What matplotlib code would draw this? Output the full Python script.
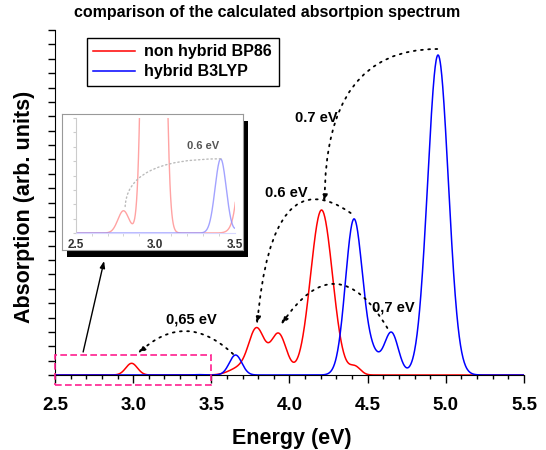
import numpy as np
import matplotlib
matplotlib.use('Agg')
import matplotlib.pyplot as plt
from matplotlib.patches import Rectangle

plt.rcParams['font.family'] = 'Liberation Sans'
plt.rcParams['font.weight'] = 'bold'

# transitions: position (eV), peak height (arb.), broadening (eV)
bp86_pos = [2.80, 2.99, 3.68, 3.79, 3.93, 4.205, 4.42]
bp86_height = [0.12, 11.7, 7.0, 45.0, 41.0, 165.0, 8.0]
bp86_width = [0.035, 0.037, 0.065, 0.05, 0.05, 0.07, 0.035]

b3lyp_pos = [3.41, 3.655, 4.412, 4.53, 4.652, 4.95]
b3lyp_height = [0.4, 20.0, 155.0, 18.0, 42.0, 320.0]
b3lyp_width = [0.035, 0.04, 0.054, 0.05, 0.045, 0.066]

xtick_labels = ['2.5', '3.0', '3.5', '4.0', '4.5', '5.0', '5.5']
inset_labels = ['2.5', '3.0', '3.5']

energy = np.linspace(2.5, 5.5, 1501)


def spectrum(pos, height, width):
    y = np.zeros_like(energy)
    for p, h, w in zip(pos, height, width):
        y += h * np.exp(-(energy - p) ** 2 / (2 * w ** 2))
    return y


red = spectrum(bp86_pos, bp86_height, bp86_width)
blue = spectrum(b3lyp_pos, b3lyp_height, b3lyp_width)

fig = plt.figure(figsize=(5.46, 4.5), dpi=100)
ax = fig.add_axes([55 / 546, 75 / 450, 469 / 546, 345 / 450])

ax.plot(energy, red, color='#ff0000', lw=1.1, label='non hybrid BP86')
ax.plot(energy, blue, color='#0000ff', lw=1.1, label='hybrid B3LYP')

ax.set_xlim(2.5, 5.5)
ax.set_ylim(0, 345)
ax.set_xticks(np.arange(2.5, 5.51, 0.5))
ax.set_xticklabels(xtick_labels)
ax.set_xticks(np.arange(2.5, 5.51, 0.1), minor=True)
ax.set_yticks(np.arange(0, 346, 14.375))
ax.tick_params(axis='x', which='major', length=6, width=1, labelsize=13.5, pad=10)
ax.tick_params(axis='x', which='minor', length=3, width=1)
ax.tick_params(axis='y', length=5, width=1, labelleft=False)
for side in ['top', 'right']:
    ax.spines[side].set_visible(False)

ax.set_xlabel('Energy (eV)', fontsize=15.5, fontweight='bold')
ax.xaxis.set_label_coords(0.505, -0.155)
ax.set_ylabel('Absorption (arb. units)', fontsize=15.5, fontweight='bold')
ax.yaxis.set_label_coords(-0.043, 0.488)

fig.text(267 / 546, 1 - 12 / 450, 'comparison of the calculated absortpion spectrum',
         ha='center', va='center', fontsize=11.5, fontweight='bold')

leg = ax.legend(loc='upper left', bbox_to_anchor=(0.068, 0.977), prop={'weight': 'bold', 'size': 11.5},
                frameon=True, fancybox=False, edgecolor='k', framealpha=1, borderaxespad=0,
                handlelength=2.6, borderpad=0.4, labelspacing=0.3, handletextpad=0.6)
leg.get_frame().set_linewidth(1.0)

# dashed box marking the zoomed region
ax.add_patch(Rectangle((2.5, -10), 1.0, 30, fill=False, ec='#ff1f8f', ls=(0, (4, 2)),
                       lw=1.2, clip_on=False, zorder=5))
ax.annotate('', xy=(2.814, 114), xytext=(2.68, 23),
            arrowprops=dict(arrowstyle='-|>,head_length=0.4,head_width=0.15', color='k', lw=1,
                            shrinkA=0, shrinkB=0))

# dotted shift arrows
dots = (0, (1, 3))
head = '-|>,head_length=0.45,head_width=0.16'


def shift(start, end, style):
    ax.annotate('', xy=end, xytext=start,
                arrowprops=dict(arrowstyle=head, connectionstyle=style, color='k', fc='k',
                                lw=1.3, ls=dots, shrinkA=0, shrinkB=0))


shift((4.945, 326), (4.225, 172), 'angle3,angleA=0,angleB=90')
shift((4.391, 162), (3.793, 50), 'angle3,angleA=145,angleB=85')
shift((4.626, 47), (3.945, 50), 'arc3,rad=0.79')
shift((3.639, 21), (3.028, 21), 'arc3,rad=0.47')

ax.text(4.17, 257, '0.7 eV', ha='center', va='center', fontsize=10.5, fontweight='bold')
ax.text(3.98, 182, '0.6 eV', ha='center', va='center', fontsize=10.5, fontweight='bold')
ax.text(4.665, 68, '0,7 eV', ha='center', va='center', fontsize=10.5, fontweight='bold')
ax.text(3.37, 55, '0,65 eV', ha='center', va='center', fontsize=10.5, fontweight='bold')

# inset: shadow, frame and a faded zoom of 2.5-3.5 eV
fig.add_artist(Rectangle((67 / 546, 193 / 450), 181 / 546, 136 / 450, transform=fig.transFigure,
                         fc='k', ec='none', zorder=2))
frame = fig.add_axes([62 / 546, 200 / 450, 181 / 546, 136 / 450], zorder=3)
frame.set_xticks([])
frame.set_yticks([])
for sp in frame.spines.values():
    sp.set_color('#999999')
    sp.set_linewidth(0.8)

inset = fig.add_axes([75.7 / 546, 217 / 450, 159.3 / 546, 115 / 450], zorder=4)
inset.patch.set_alpha(0)
inset.plot(energy, red, color='#ff8c8c', lw=1.0, alpha=0.8)
inset.plot(energy, blue, color='#8c8cff', lw=1.0, alpha=0.8)
inset.set_xlim(2.5, 3.5)
inset.set_ylim(0, 0.62)
inset.set_xticks([2.5, 3.0, 3.5])
inset.set_xticklabels(inset_labels)
inset.set_xticks(np.arange(2.5, 3.51, 0.1), minor=True)
inset.set_yticks(np.linspace(0, 0.62, 9))
inset.tick_params(axis='x', which='major', length=0, labelsize=8.5, labelcolor='#333333', pad=4)
inset.tick_params(axis='x', which='minor', length=2, color='#cccccc')
inset.tick_params(axis='y', length=2, color='#cccccc', labelleft=False)
for side in ['top', 'right']:
    inset.spines[side].set_visible(False)
inset.spines['left'].set_color('#cccccc')
inset.spines['bottom'].set_color('#d8d8ff')
inset.annotate('', xy=(2.81, 0.13), xytext=(3.41, 0.40),
               arrowprops=dict(arrowstyle='-', connectionstyle='angle3,angleA=0,angleB=90',
                               color='#bbbbbb', lw=1.0, ls=(0, (1, 2)), shrinkA=0, shrinkB=0))
inset.text(3.3, 0.47, '0.6 eV', ha='center', va='center', fontsize=8, fontweight='bold',
           color='#555555')

fig.savefig('out.png', dpi=100, facecolor='white')
